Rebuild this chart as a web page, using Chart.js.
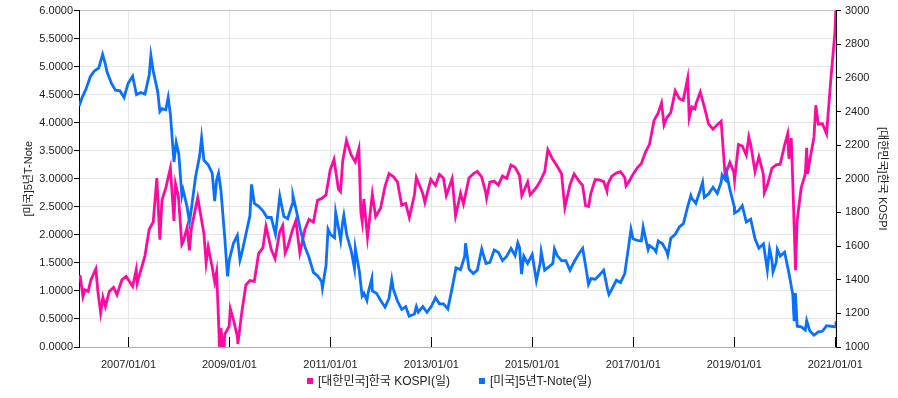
<!DOCTYPE html>
<html>
<head>
<meta charset="utf-8">
<script src="https://cdn.jsdelivr.net/npm/chart.js@4.4.0/dist/chart.umd.min.js"></script>
<style>
  html, body { margin: 0; padding: 0; background: #fff; }
  #wrap { width: 898px; height: 398px; position: relative; }
</style>
</head>
<body>
<div id="wrap"><canvas id="kospiNoteChart"></canvas></div>
<script>
// KOSPI (right axis)
const kospiDates = [
  "2006-01-09","2006-01-17","2006-02-06","2006-02-20","2006-03-15","2006-04-05","2006-05-10","2006-05-25",
  "2006-06-14","2006-06-30","2006-07-18","2006-08-15","2006-09-15","2006-10-10","2006-10-31","2006-11-15",
  "2006-12-15","2007-01-15","2007-01-31","2007-02-26","2007-03-05","2007-03-30","2007-04-30","2007-05-31",
  "2007-06-29","2007-07-25","2007-08-16","2007-08-31","2007-09-28","2007-10-31","2007-11-26","2007-12-07",
  "2007-12-28","2008-01-22","2008-01-31","2008-02-29","2008-03-17","2008-03-31","2008-04-30","2008-05-16",
  "2008-06-30","2008-07-16","2008-07-31","2008-08-29","2008-09-16","2008-09-30","2008-10-10","2008-10-24",
  "2008-10-31","2008-11-20","2008-11-28","2008-12-30","2009-01-07","2009-01-30","2009-02-27","2009-03-03",
  "2009-03-31","2009-04-30","2009-05-29","2009-06-30","2009-07-31","2009-08-31","2009-09-22","2009-10-30",
  "2009-11-27","2009-12-30","2010-01-21","2010-02-08","2010-02-26","2010-03-31","2010-04-26","2010-05-25",
  "2010-06-30","2010-07-30","2010-08-31","2010-09-30","2010-10-29","2010-11-30","2010-12-30","2011-01-27",
  "2011-02-28","2011-03-15","2011-03-31","2011-04-27","2011-05-31","2011-06-30","2011-07-26","2011-08-09",
  "2011-08-19","2011-08-31","2011-09-26","2011-10-31","2011-11-24","2011-12-30","2012-01-31","2012-02-29",
  "2012-03-30","2012-04-30","2012-05-31","2012-06-29","2012-07-25","2012-08-31","2012-09-14","2012-10-31",
  "2012-11-15","2012-12-28","2013-01-31","2013-02-28","2013-03-29","2013-04-19","2013-05-31","2013-06-25",
  "2013-07-31","2013-08-21","2013-09-30","2013-10-31","2013-11-29","2013-12-30","2014-01-29","2014-02-04",
  "2014-02-28","2014-03-31","2014-04-30","2014-05-30","2014-06-30","2014-07-30","2014-08-29","2014-09-30",
  "2014-10-17","2014-11-28","2014-12-16","2014-12-30","2015-01-30","2015-02-27","2015-03-31","2015-04-23",
  "2015-05-29","2015-06-30","2015-07-31","2015-08-24","2015-09-30","2015-10-30","2015-11-30","2015-12-30",
  "2016-01-21","2016-02-12","2016-02-29","2016-03-31","2016-04-29","2016-05-31","2016-06-24","2016-06-30",
  "2016-07-29","2016-08-31","2016-09-30","2016-10-31","2016-11-09","2016-11-30","2016-12-29","2017-01-31",
  "2017-02-28","2017-03-31","2017-04-28","2017-05-31","2017-06-30","2017-07-24","2017-08-11","2017-08-31",
  "2017-09-29","2017-10-31","2017-11-30","2017-12-28","2018-01-29","2018-02-09","2018-02-28","2018-03-23",
  "2018-03-30","2018-04-30","2018-05-31","2018-06-29","2018-07-31","2018-08-31","2018-09-28","2018-10-29",
  "2018-10-31","2018-11-30","2018-12-28","2019-01-03","2019-01-31","2019-02-28","2019-03-29","2019-04-16",
  "2019-04-30","2019-05-31","2019-06-28","2019-07-31","2019-08-06","2019-08-30","2019-09-30","2019-10-31",
  "2019-11-29","2019-12-30","2020-01-22","2020-01-31","2020-02-17","2020-02-28","2020-03-19","2020-03-31",
  "2020-04-29","2020-05-29","2020-06-08","2020-06-15","2020-06-30","2020-07-31","2020-08-13","2020-08-31",
  "2020-09-30","2020-10-30","2020-11-30","2020-12-30","2021-01-06"
];
const kospiValues = [
  1425, 1420, 1300, 1340, 1330, 1400, 1464, 1330,
  1203, 1295, 1240, 1330, 1355, 1310, 1364, 1400,
  1420, 1380, 1360, 1460, 1380, 1453, 1542, 1700,
  1744, 2004, 1638, 1873, 1946, 2064, 1750, 1970,
  1897, 1610, 1624, 1711, 1575, 1704, 1825, 1888,
  1674, 1500, 1594, 1474, 1387, 1448, 1241, 938,
  1113, 940, 1076, 1124, 1228, 1162, 1063, 1018,
  1206, 1369, 1395, 1390, 1557, 1591, 1718, 1580,
  1525, 1682, 1722, 1560, 1594, 1692, 1752, 1560,
  1698, 1759, 1742, 1872, 1882, 1904, 2051, 2115,
  1939, 1924, 2106, 2228, 2142, 2100, 2180, 1801,
  1744, 1880, 1652, 1909, 1775, 1826, 1955, 2030,
  2014, 1982, 1843, 1854, 1770, 1905, 2008, 1912,
  1860, 1997, 1961, 2026, 2005, 1900, 2001, 1780,
  1914, 1850, 2005, 2030, 2044, 2011, 1919, 1886,
  1980, 1986, 1962, 2017, 2002, 2082, 2068, 2020,
  1900, 1981, 1904, 1916, 1949, 1986, 2041, 2173,
  2114, 2074, 2030, 1829, 1963, 2029, 1991, 1961,
  1840, 1835, 1917, 1996, 1994, 1983, 1926, 1970,
  2016, 2034, 2043, 2008, 1958, 1983, 2026, 2067,
  2091, 2160, 2205, 2347, 2392, 2451, 2320, 2363,
  2394, 2523, 2476, 2467, 2598, 2363, 2427, 2416,
  2446, 2515, 2423, 2326, 2295, 2322, 2343, 1996,
  2029, 2097, 2041, 1993, 2204, 2195, 2141, 2249,
  2203, 2042, 2130, 2025, 1917, 1967, 2063, 2083,
  2087, 2197, 2267, 2119, 2243, 1987, 1457, 1754,
  1947, 2029, 2184, 2030, 2108, 2249, 2437, 2326,
  2327, 2267, 2591, 2873, 3031
];

// US 5-year T-Note yield (left axis)
const noteDates = [
  "2006-01-09","2006-01-31","2006-02-28","2006-03-31","2006-04-28","2006-05-31","2006-06-28","2006-07-17",
  "2006-07-31","2006-08-31","2006-09-29","2006-10-31","2006-11-30","2006-12-29","2007-01-31","2007-02-28",
  "2007-03-30","2007-04-30","2007-05-31","2007-06-12","2007-06-29","2007-07-31","2007-08-16","2007-08-31",
  "2007-09-28","2007-10-15","2007-10-31","2007-11-26","2007-12-12","2007-12-31","2008-01-22","2008-01-31",
  "2008-02-29","2008-03-17","2008-03-31","2008-04-30","2008-05-30","2008-06-13","2008-06-30","2008-07-31",
  "2008-08-29","2008-09-16","2008-09-30","2008-10-14","2008-10-31","2008-11-28","2008-12-18","2008-12-31",
  "2009-01-30","2009-02-27","2009-03-18","2009-03-31","2009-04-30","2009-05-29","2009-06-10","2009-06-30",
  "2009-07-31","2009-08-31","2009-09-30","2009-10-30","2009-11-30","2009-12-31","2010-01-29","2010-02-26",
  "2010-03-31","2010-04-05","2010-04-30","2010-05-28","2010-06-30","2010-07-30","2010-08-31","2010-09-30",
  "2010-10-29","2010-11-04","2010-11-30","2010-12-15","2010-12-31","2011-01-31","2011-02-08","2011-02-28",
  "2011-03-16","2011-03-31","2011-04-08","2011-04-29","2011-05-31","2011-06-24","2011-06-30","2011-07-29",
  "2011-08-18","2011-08-31","2011-09-22","2011-09-30","2011-10-27","2011-10-31","2011-11-30","2011-12-30",
  "2012-01-31","2012-02-29","2012-03-20","2012-03-30","2012-04-30","2012-05-31","2012-06-29","2012-07-24",
  "2012-08-31","2012-09-14","2012-09-28","2012-10-31","2012-11-30","2012-12-31","2013-01-31","2013-02-28",
  "2013-03-29","2013-04-30","2013-05-31","2013-06-28","2013-07-31","2013-08-30","2013-09-05","2013-09-30",
  "2013-10-31","2013-11-29","2013-12-31","2014-01-31","2014-02-28","2014-03-31","2014-04-30","2014-05-30",
  "2014-06-30","2014-07-31","2014-08-29","2014-09-18","2014-09-30","2014-10-15","2014-10-31","2014-11-28",
  "2014-12-31","2015-01-30","2015-02-27","2015-03-06","2015-03-31","2015-04-30","2015-05-29","2015-06-10",
  "2015-06-30","2015-07-31","2015-08-31","2015-09-30","2015-10-30","2015-11-30","2015-12-31","2016-01-29",
  "2016-02-11","2016-02-29","2016-03-31","2016-04-29","2016-05-31","2016-06-30","2016-07-08","2016-07-29",
  "2016-08-31","2016-09-30","2016-10-31","2016-11-30","2016-12-15","2016-12-30","2017-01-31","2017-02-28",
  "2017-03-13","2017-03-31","2017-04-18","2017-04-28","2017-05-31","2017-06-14","2017-06-30","2017-07-31",
  "2017-08-31","2017-09-07","2017-09-29","2017-10-31","2017-11-30","2017-12-29","2018-01-31","2018-02-21",
  "2018-02-28","2018-03-29","2018-04-30","2018-05-17","2018-05-29","2018-06-29","2018-07-31","2018-08-31",
  "2018-09-28","2018-10-05","2018-10-31","2018-11-07","2018-11-30","2018-12-31","2019-01-03","2019-01-31",
  "2019-02-28","2019-03-29","2019-04-30","2019-05-31","2019-06-28","2019-07-31","2019-08-28","2019-09-13",
  "2019-09-30","2019-10-08","2019-10-31","2019-11-08","2019-11-29","2019-12-31","2020-01-31","2020-02-28",
  "2020-03-09","2020-03-18","2020-03-31","2020-04-30","2020-05-29","2020-06-08","2020-06-30","2020-07-31",
  "2020-08-31","2020-09-30","2020-10-30","2020-11-30","2020-12-31","2021-01-06"
];
const noteValues = [
  4.30, 4.45, 4.60, 4.82, 4.92, 4.98, 5.22, 5.05,
  4.90, 4.70, 4.58, 4.57, 4.45, 4.70, 4.83, 4.50,
  4.54, 4.51, 4.85, 5.20, 4.92, 4.56, 4.20, 4.25,
  4.23, 4.45, 4.15, 3.30, 3.65, 3.44, 2.70, 2.80,
  2.50, 2.23, 2.46, 3.03, 3.41, 3.73, 3.33, 3.25,
  3.10, 2.60, 2.98, 3.10, 2.80, 1.95, 1.26, 1.55,
  1.85, 1.99, 1.55, 1.67, 2.01, 2.34, 2.90, 2.56,
  2.51, 2.43, 2.31, 2.31, 2.01, 2.69, 2.33, 2.29,
  2.55, 2.70, 2.43, 2.10, 1.79, 1.60, 1.33, 1.27,
  1.17, 1.05, 1.45, 2.10, 2.01, 1.95, 2.40, 2.13,
  1.90, 2.24, 2.35, 2.00, 1.72, 1.40, 1.76, 1.35,
  0.91, 0.96, 0.83, 0.96, 1.22, 1.00, 0.96, 0.83,
  0.71, 0.87, 1.20, 1.04, 0.82, 0.67, 0.72, 0.55,
  0.59, 0.72, 0.62, 0.72, 0.62, 0.72, 0.88, 0.77,
  0.77, 0.68, 1.05, 1.41, 1.38, 1.62, 1.85, 1.39,
  1.31, 1.37, 1.75, 1.49, 1.51, 1.73, 1.69, 1.54,
  1.62, 1.76, 1.63, 1.86, 1.78, 1.30, 1.62, 1.49,
  1.65, 1.18, 1.50, 1.70, 1.37, 1.43, 1.49, 1.75,
  1.63, 1.54, 1.54, 1.37, 1.52, 1.65, 1.76, 1.33,
  1.12, 1.22, 1.21, 1.28, 1.37, 1.01, 0.94, 1.03,
  1.19, 1.15, 1.31, 1.83, 2.10, 1.93, 1.90, 1.89,
  2.14, 1.93, 1.74, 1.81, 1.75, 1.70, 1.89, 1.84,
  1.70, 1.64, 1.94, 2.01, 2.14, 2.20, 2.52, 2.70,
  2.65, 2.56, 2.80, 2.94, 2.67, 2.73, 2.85, 2.74,
  2.94, 3.07, 2.98, 3.09, 2.81, 2.51, 2.39, 2.43,
  2.52, 2.23, 2.28, 1.93, 1.76, 1.84, 1.37, 1.75,
  1.55, 1.34, 1.51, 1.74, 1.62, 1.69, 1.32, 0.94,
  0.46, 0.96, 0.37, 0.36, 0.30, 0.47, 0.29, 0.21,
  0.27, 0.28, 0.38, 0.37, 0.36, 0.46
];

const xTicks = [2007, 2009, 2011, 2013, 2015, 2017, 2019, 2021];
const leftTicks = [0, 0.5, 1, 1.5, 2, 2.5, 3, 3.5, 4, 4.5, 5, 5.5, 6];

// date string -> fractional year for the linear x axis
function toYear(s) {
  const [y, m, d] = s.split("-").map(Number);
  const start = Date.UTC(y, 0, 1), end = Date.UTC(y + 1, 0, 1);
  return y + (Date.UTC(y, m - 1, d) - start) / (end - start);
}
const toPoints = (dates, vals) => dates.map((d, i) => ({ x: toYear(d), y: vals[i] }));

const FONT = "'Liberation Sans', 'Noto Sans CJK KR', sans-serif";
Chart.defaults.font.family = FONT;
Chart.defaults.font.size = 11;
Chart.defaults.color = "#222";

// short black tick marks inside the plot on the x axis
const innerTicks = {
  id: "innerTicks",
  afterDatasetsDraw(chart) {
    const { ctx, chartArea, scales } = chart;
    ctx.save();
    ctx.strokeStyle = "#000";
    ctx.lineWidth = 1;
    scales.x.ticks.forEach((t) => {
      const x = Math.round(scales.x.getPixelForValue(t.value)) + 0.5;
      ctx.beginPath();
      ctx.moveTo(x, chartArea.bottom);
      ctx.lineTo(x, chartArea.bottom - 10);
      ctx.stroke();
    });
    ctx.restore();
  },
};

// legend row under the axis: square + label, centred
const bottomLegend = {
  id: "bottomLegend",
  afterDraw(chart) {
    const { ctx, width } = chart;
    const box = 6, boxGap = 5, itemGap = 29, y = 382;
    ctx.save();
    ctx.font = "12px " + FONT;
    ctx.textBaseline = "middle";
    const items = chart.data.datasets.map((ds) => ({
      text: ds.label,
      color: ds.borderColor,
      w: ctx.measureText(ds.label).width,
    }));
    const total = items.reduce((s, it) => s + box + boxGap + it.w, 0) + itemGap * (items.length - 1);
    let x = Math.round((width - total) / 2);
    items.forEach((it) => {
      ctx.fillStyle = it.color;
      ctx.fillRect(x, y - 4, box, box);
      ctx.fillStyle = "#222";
      ctx.fillText(it.text, x + box + boxGap, y);
      x += box + boxGap + it.w + itemGap;
    });
    ctx.restore();
  },
};

const ctx = document.getElementById("kospiNoteChart").getContext("2d");
new Chart(ctx, {
  type: "line",
  data: {
    datasets: [
      {
        label: "[대한민국]한국 KOSPI(일)",
        data: toPoints(kospiDates, kospiValues),
        yAxisID: "yRight",
        borderColor: "#ff0aa0",
        backgroundColor: "#ff0aa0",
        borderWidth: 2.8,
        pointRadius: 0,
        tension: 0,
        order: 2,
      },
      {
        label: "[미국]5년T-Note(일)",
        data: toPoints(noteDates, noteValues),
        yAxisID: "yLeft",
        borderColor: "#0a70ff",
        backgroundColor: "#0a70ff",
        borderWidth: 2.8,
        pointRadius: 0,
        tension: 0,
        order: 1,
      },
    ],
  },
  options: {
    responsive: true,
    maintainAspectRatio: false,
    animation: false,
    layout: { padding: { top: 6, left: 0, right: 0, bottom: 0 } },
    scales: {
      x: {
        type: "linear",
        min: 2006.02,
        max: 2021.015,
        afterBuildTicks: (scale) => {
          scale.ticks = xTicks.map((v) => ({ value: v }));
        },
        afterFit: (scale) => { scale.height = 51; },
        ticks: {
          callback: (v) => v + "/01/01",
          maxRotation: 0,
          autoSkip: false,
          padding: 11,
          color: "#222",
        },
        grid: { color: "#e6e6e6", drawTicks: false },
        border: { color: "#b0b0b0" },
      },
      yLeft: {
        position: "left",
        min: 0,
        max: 6,
        afterBuildTicks: (scale) => {
          scale.ticks = leftTicks.map((v) => ({ value: v }));
        },
        afterFit: (scale) => { scale.width = 79; },
        ticks: { callback: (v) => v.toFixed(4), padding: 1, color: "#222" },
        grid: {
          color: (c) => (c.tick && c.tick.value === 6 ? "#c4c4c4" : "#e6e6e6"),
          tickColor: "#000",
          tickLength: 5,
        },
        border: { color: "#000" },
        title: {
          display: true,
          text: "[미국]5년T-Note",
          color: "#222",
          padding: { top: 22, bottom: 0 },
        },
      },
      yRight: {
        position: "right",
        min: 1000,
        max: 3000,
        afterFit: (scale) => { scale.width = 62; },
        ticks: { stepSize: 200, padding: 4, color: "#222", callback: (v) => String(v) },
        grid: { drawOnChartArea: false, tickColor: "#000", tickLength: 5 },
        border: { color: "#000" },
        title: {
          display: true,
          text: "[대한민국]한국 KOSPI",
          color: "#222",
          padding: { top: 9, bottom: 0 },
        },
      },
    },
    plugins: {
      legend: { display: false },
      tooltip: { enabled: false },
    },
  },
  plugins: [innerTicks, bottomLegend],
});
</script>
</body>
</html>
